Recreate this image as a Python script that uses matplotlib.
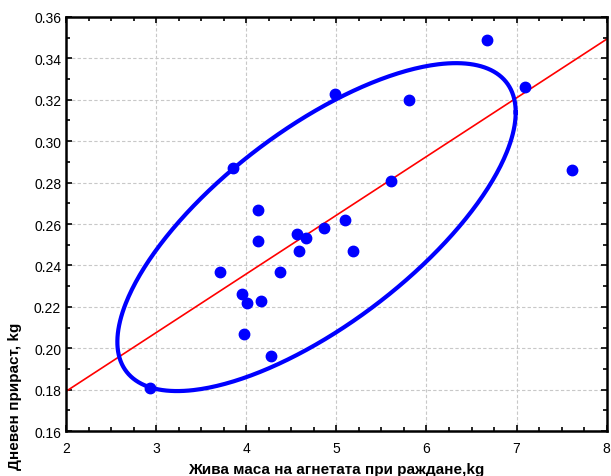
import matplotlib
matplotlib.use("Agg")
import matplotlib.pyplot as plt
from matplotlib.ticker import MultipleLocator
import numpy as np

# Birth weight of lambs (kg) and daily gain (kg)
birth_weight = [2.93, 3.85, 3.71, 3.95, 4.01, 3.97, 4.13, 4.13, 4.16, 4.27, 4.38, 4.56,
                4.58, 4.66, 4.86, 4.99, 5.10, 5.19, 5.81, 5.61, 6.67, 7.09, 7.62]
daily_gain = [0.181, 0.287, 0.237, 0.226, 0.222, 0.207, 0.267, 0.252, 0.223, 0.196, 0.237, 0.255,
              0.247, 0.253, 0.258, 0.323, 0.262, 0.247, 0.320, 0.281, 0.349, 0.326, 0.286]

# ellipse as drawn in the original (centre, half-ranges in x and y, correlation)
ellipse_center = (4.78, 0.2585)
ellipse_half_x = 2.21
ellipse_half_y = 0.0792
ellipse_r = 0.70

x_label = "Жива маса на агнетата при раждане,kg"
y_label = "Дневен прираст, kg"

plt.rcParams['font.family'] = ['Liberation Sans', 'DejaVu Sans']

x = np.array(birth_weight)
y = np.array(daily_gain)

fig = plt.figure(figsize=(6.11, 4.77), dpi=100)
ax = fig.add_axes([0.108, 0.0943, 0.885, 0.8680])

# regression line
b, a = np.polyfit(x, y, 1)
xs = np.array([2, 8])
ax.plot(xs, a + b * xs, color="red", lw=1.2, zorder=2)

# ellipse
t = np.linspace(0, 2 * np.pi, 400)
ex = ellipse_center[0] + ellipse_half_x * np.cos(t)
ey = ellipse_center[1] + ellipse_half_y * (ellipse_r * np.cos(t) + np.sqrt(1 - ellipse_r ** 2) * np.sin(t))
ax.plot(ex, ey, color="#0000ff", lw=3, zorder=3)

ax.plot(x, y, "o", color="#0000ff", ms=7.5, zorder=4, clip_on=False)

ax.set_xlim(2, 8)
ax.set_ylim(0.16, 0.36)
ax.xaxis.set_major_locator(MultipleLocator(1))
ax.xaxis.set_minor_locator(MultipleLocator(0.25))
ax.yaxis.set_major_locator(MultipleLocator(0.02))
ax.yaxis.set_minor_locator(MultipleLocator(0.01))
ax.yaxis.set_major_formatter(matplotlib.ticker.FormatStrFormatter("%.2f"))
ax.grid(True, which="major", color="#c8c8c8", ls=(0, (3, 2)), lw=0.8)
ax.tick_params(which="both", direction="in", top=True, right=True, labelsize=10, width=1.2)
ax.tick_params(which="major", length=4)
ax.tick_params(which="minor", length=3)
ax.tick_params(axis="x", pad=7)
for s in ax.spines.values():
    s.set_linewidth(1.8)

ax.set_xlabel(x_label, fontsize=11, fontweight="bold", labelpad=5)
ax.set_ylabel(y_label, fontsize=11, fontweight="bold")
ax.yaxis.set_label_coords(-0.081, 0.085)

fig.savefig("out.png", dpi=100)
